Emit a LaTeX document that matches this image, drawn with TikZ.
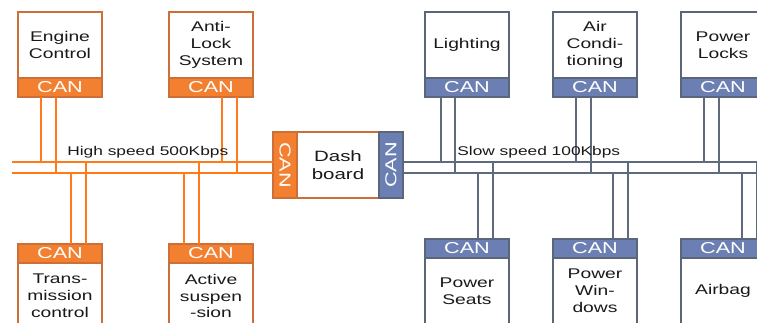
\documentclass[tikz,border=0pt]{standalone}
\usepackage{fontspec}
\setmainfont{Liberation Sans}[FakeStretch=1.37]
\usepackage{tikz}
\usetikzlibrary{positioning,calc}

\definecolor{canOrange}{RGB}{243,128,48}
\definecolor{boxOrange}{RGB}{204,112,56}
\definecolor{wireOrange}{RGB}{255,122,24}
\definecolor{canBlue}{RGB}{108,127,178}
\definecolor{boxBlue}{RGB}{92,102,122}
\definecolor{wireBlue}{RGB}{96,106,126}

\tikzset{
  ecu/.style={draw=#1, line width=1pt, fill=white, minimum width=1.68cm,
    minimum height=1.32cm, inner sep=0pt, outer sep=0pt, align=center,
    text=black!90, font=\fontsize{8}{9.6}\selectfont},
  can/.style={draw=#1, line width=1pt, minimum width=1.68cm,
    minimum height=0.38cm, inner sep=0pt, outer sep=0pt, text=white,
    font=\fontsize{9}{9}\selectfont},
  hswire/.style={wireOrange, line width=1.1pt},
  lswire/.style={wireBlue, line width=1.1pt},
  buslabel/.style={inner sep=0pt, text=black!90, font=\fontsize{7.2}{7.2}\selectfont}
}

\begin{document}
\begin{tikzpicture}[x=0.02cm,y=-0.02cm]
        \useasboundingbox (0,0) rectangle (757,322);
        \clip (0,0) rectangle (757,322);
        %High speed side
        \node[ecu=boxOrange, anchor=north west] (engine) at (18,12) {Engine\\Control};
        \node[can=boxOrange, fill=canOrange, anchor=north] (engineCan) at (engine.south) {CAN};
        \node[ecu=boxOrange, anchor=north west] (abs) at (169,12) {Anti-\\Lock\\System};
        \node[can=boxOrange, fill=canOrange, anchor=north] (absCan) at (abs.south) {CAN};
        \node[can=boxOrange, fill=canOrange, anchor=north west] (transCan) at (18,244) {CAN};
        \node[ecu=boxOrange, anchor=north] (trans) at (transCan.south) {Trans-\\mission\\control};
        \node[can=boxOrange, fill=canOrange, anchor=north west] (suspCan) at (169,244) {CAN};
        \node[ecu=boxOrange, anchor=north] (susp) at (suspCan.south) {Active\\suspen\\-sion};
        %Dash board
        \node[ecu=boxOrange, minimum width=1.64cm, font=\fontsize{8.5}{10}\selectfont] (dash) at (338,165) {Dash\\board};
        \node[can=boxOrange, fill=canOrange, minimum width=0.48cm, minimum height=1.32cm, left=0pt of dash] (dashCanL) {\rotatebox{-90}{CAN}};
        \node[can=boxBlue, fill=canBlue, minimum width=0.48cm, minimum height=1.32cm, right=0pt of dash] (dashCanR) {\rotatebox{90}{CAN}};
        %Low speed side
        \node[ecu=boxBlue, anchor=north west] (light) at (425,12) {Lighting};
        \node[can=boxBlue, fill=canBlue, anchor=north] (lightCan) at (light.south) {CAN};
        \node[ecu=boxBlue, anchor=north west] (air) at (553,12) {Air\\Condi-\\tioning};
        \node[can=boxBlue, fill=canBlue, anchor=north] (airCan) at (air.south) {CAN};
        \node[ecu=boxBlue, anchor=north west] (lock) at (681,12) {Power\\Locks};
        \node[can=boxBlue, fill=canBlue, anchor=north] (lockCan) at (lock.south) {CAN};
        \node[can=boxBlue, fill=canBlue, anchor=north west] (seatCan) at (425,239) {CAN};
        \node[ecu=boxBlue, anchor=north] (seat) at (seatCan.south) {Power\\Seats};
        \node[can=boxBlue, fill=canBlue, anchor=north west] (windCan) at (553,239) {CAN};
        \node[ecu=boxBlue, anchor=north] (wind) at (windCan.south) {Power\\Win-\\dows};
        \node[can=boxBlue, fill=canBlue, anchor=north west] (bagCan) at (681,239) {CAN};
        \node[ecu=boxBlue, anchor=north] (bag) at (bagCan.south) {Airbag};
        %Bus taps
        \coordinate (hsHi) at (12,162);
        \coordinate (hsLo) at (12,173);
        \coordinate (lsHi) at (757,162);
        \coordinate (lsLo) at (757,173);
        \coordinate (engA) at (41,162);
        \coordinate (engB) at (56,173);
        \coordinate (absA) at (222,162);
        \coordinate (absB) at (237,173);
        \coordinate (trnA) at (71,173);
        \coordinate (trnB) at (86,162);
        \coordinate (susA) at (184,173);
        \coordinate (susB) at (199,162);
        \coordinate (lgtA) at (441,162);
        \coordinate (lgtB) at (455,173);
        \coordinate (airA) at (576,162);
        \coordinate (airB) at (591,173);
        \coordinate (lckA) at (704,162);
        \coordinate (lckB) at (719,173);
        \coordinate (seaA) at (478,173);
        \coordinate (seaB) at (493,162);
        \coordinate (winA) at (613,173);
        \coordinate (winB) at (628,162);
        \coordinate (bagA) at (742,173);
        \coordinate (bagB) at (757,162);
        %Draw lines
        \draw[hswire] (hsHi) -- (hsHi -| dashCanL.west);
        \draw[hswire] (hsLo) -- (hsLo -| dashCanL.west);
        \draw[hswire] (engineCan.south -| engA) -- (engA);
        \draw[hswire] (engineCan.south -| engB) -- (engB);
        \draw[hswire] (absCan.south -| absA) -- (absA);
        \draw[hswire] (absCan.south -| absB) -- (absB);
        \draw[hswire] (trnA) -- (trnA |- transCan.north);
        \draw[hswire] (trnB) -- (trnB |- transCan.north);
        \draw[hswire] (susA) -- (susA |- suspCan.north);
        \draw[hswire] (susB) -- (susB |- suspCan.north);
        \draw[lswire] (lsHi -| dashCanR.east) -- (lsHi);
        \draw[lswire] (lsLo -| dashCanR.east) -- (lsLo);
        \draw[lswire] (lightCan.south -| lgtA) -- (lgtA);
        \draw[lswire] (lightCan.south -| lgtB) -- (lgtB);
        \draw[lswire] (airCan.south -| airA) -- (airA);
        \draw[lswire] (airCan.south -| airB) -- (airB);
        \draw[lswire] (lockCan.south -| lckA) -- (lckA);
        \draw[lswire] (lockCan.south -| lckB) -- (lckB);
        \draw[lswire] (seaA) -- (seaA |- seatCan.north);
        \draw[lswire] (seaB) -- (seaB |- seatCan.north);
        \draw[lswire] (winA) -- (winA |- windCan.north);
        \draw[lswire] (winB) -- (winB |- windCan.north);
        \draw[lswire] (bagA) -- (bagA |- bagCan.north);
        \draw[lswire] (bagB) -- (bagB |- bagCan.north);
        %Draw labels
        \node[buslabel, anchor=base west] (hsLabel) at (67,155) {High speed 500Kbps};
        \node[buslabel, anchor=base west] (lsLabel) at (457,155) {Slow speed 100Kbps};
      \end{tikzpicture}
\end{document}
